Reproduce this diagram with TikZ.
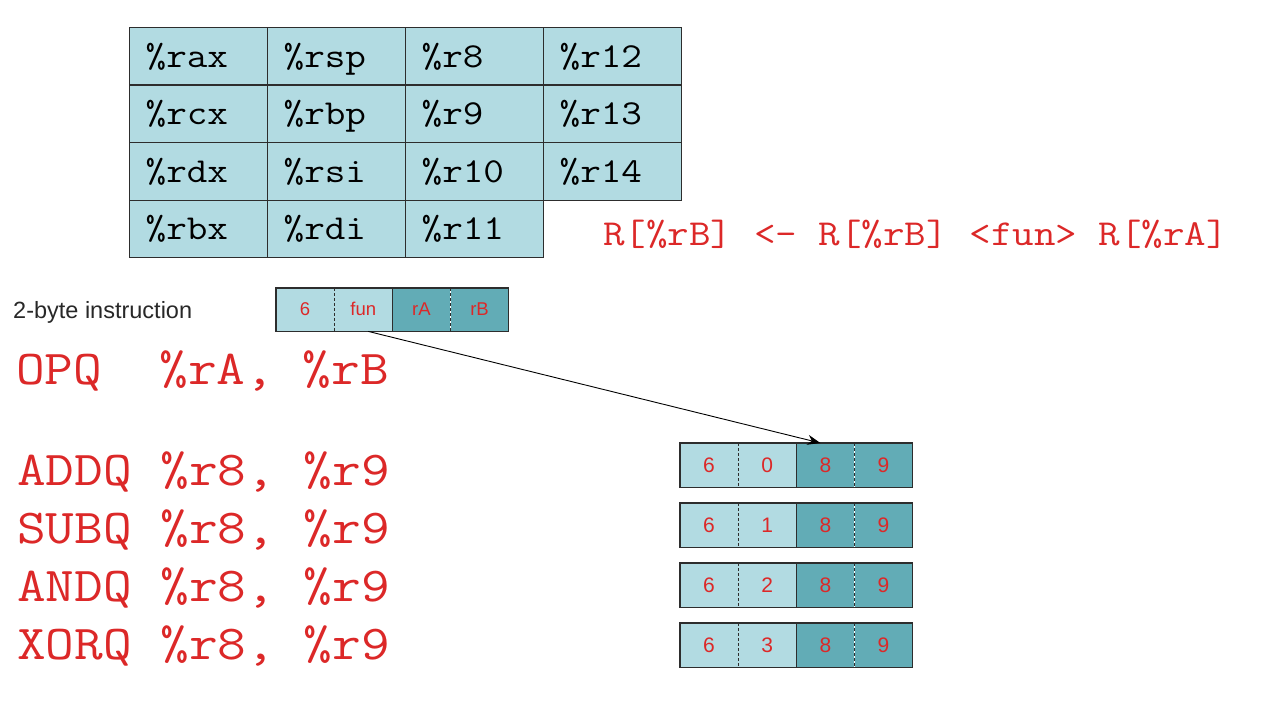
\documentclass[tikz,border=0pt]{standalone}
\usepackage{graphicx}
\usepackage{fontspec}
\setmainfont{Liberation Sans}
\usetikzlibrary{arrows.meta}
\definecolor{lightcell}{RGB}{178,219,226}
\definecolor{darkcell}{RGB}{98,172,182}
\definecolor{codered}{RGB}{220,40,40}
\definecolor{gridline}{RGB}{45,45,45}
\definecolor{labelgray}{RGB}{40,40,40}
% widened typewriter text for register names and assembly lines
\newcommand\widetext[1]{\scalebox{1.143}[1]{#1}}

\begin{document}
\begin{tikzpicture}[x=1pt,y=-1pt,
  reg/.style={draw=gridline, line width=1.3pt, fill=lightcell, anchor=north west,
    minimum width=138pt, minimum height=57.5pt, text width=106pt, inner xsep=16pt,
    inner ysep=0pt, align=left, text height=25pt, text depth=3pt,
    font=\ttfamily\fontsize{35}{35}\selectfont},
  code/.style={text=codered, anchor=base west, inner sep=0pt,
    font=\ttfamily\fontsize{48.7}{48.7}\selectfont},
  formula/.style={text=codered, anchor=base west, inner sep=0pt,
    font=\ttfamily\fontsize{36.6}{36.6}\selectfont},
  cellA/.style={fill=lightcell, anchor=north west, minimum width=57.75pt,
    inner sep=0pt, text=codered},
  cellB/.style={cellA, fill=darkcell},
  smallcell/.style={minimum height=43pt, text height=14pt, text depth=2pt,
    font=\fontsize{18.5}{18.5}\selectfont},
  bigcell/.style={minimum height=44pt, text height=15pt, text depth=1pt,
    font=\fontsize{21}{21}\selectfont},
  frame/.style={draw=gridline, line width=1.3pt},
  divider/.style={draw=gridline, line width=0.9pt, dashed, dash pattern=on 3pt off 2pt},
  pointer/.style={draw=black, line width=0.9pt, -{Stealth[length=13pt,width=10pt]}}
]
\useasboundingbox (0,0) rectangle (1272,706);
\fill[white] (0,0) rectangle (1272,706);

% register file
\foreach \name [count=\i from 0] in {rax,rcx,rdx,rbx}
  \node[reg] (r0\i) at (129,27+57.5*\i) {\widetext{\%\name}};
\foreach \name [count=\i from 0] in {rsp,rbp,rsi,rdi}
  \node[reg] (r1\i) at (267,27+57.5*\i) {\widetext{\%\name}};
\foreach \name [count=\i from 0] in {r8,r9,r10,r11}
  \node[reg] (r2\i) at (405,27+57.5*\i) {\widetext{\%\name}};
\foreach \name [count=\i from 0] in {r12,r13,r14}
  \node[reg] (r3\i) at (543,27+57.5*\i) {\widetext{\%\name}};

% semantics
\node[formula] (sem) at (603,245) {\widetext{R[\%rB] <- R[\%rB] <fun> R[\%rA]}};

% instruction format
\node[text=labelgray, anchor=west, inner sep=0pt, font=\fontsize{23.5}{23.5}\selectfont]
  (lbl) at (13,312) {2-byte instruction};
\node[cellA,smallcell] (f1) at (276,288) {6};
\node[cellA,smallcell] (f2) at (f1.north east) {fun};
\node[cellB,smallcell] (f3) at (f2.north east) {rA};
\node[cellB,smallcell] (f4) at (f3.north east) {rB};
\draw[frame] (f1.north west) rectangle (f4.south east);
\draw[frame] (f2.north east) -- (f2.south east);
\draw[divider] (f1.north east) -- (f1.south east);
\draw[divider] (f3.north east) -- (f3.south east);

\node[code] (opq) at (16,384) {\widetext{OPQ\ \ \%rA,\ \%rB}};

% examples
\foreach \op/\fn [count=\k from 0] in {ADDQ/0,SUBQ/1,ANDQ/2,XORQ/3}{
  \node[code] (ins\k) at (17,485+58*\k) {\widetext{\op\ \%r8,\ \%r9}};
  \node[cellA,bigcell] (e\k a) at (680,443+60*\k) {6};
  \node[cellA,bigcell] (e\k b) at (e\k a.north east) {\fn};
  \node[cellB,bigcell] (e\k c) at (e\k b.north east) {8};
  \node[cellB,bigcell] (e\k d) at (e\k c.north east) {9};
  \draw[frame] (e\k a.north west) rectangle (e\k d.south east);
  \draw[frame] (e\k b.north east) -- (e\k b.south east);
  \draw[divider] (e\k a.north east) -- (e\k a.south east);
  \draw[divider] (e\k c.north east) -- (e\k c.south east);
}

\draw[pointer] ([xshift=5pt]f2.south) -- ([xshift=-5pt]e0c.north);
\end{tikzpicture}
\end{document}
